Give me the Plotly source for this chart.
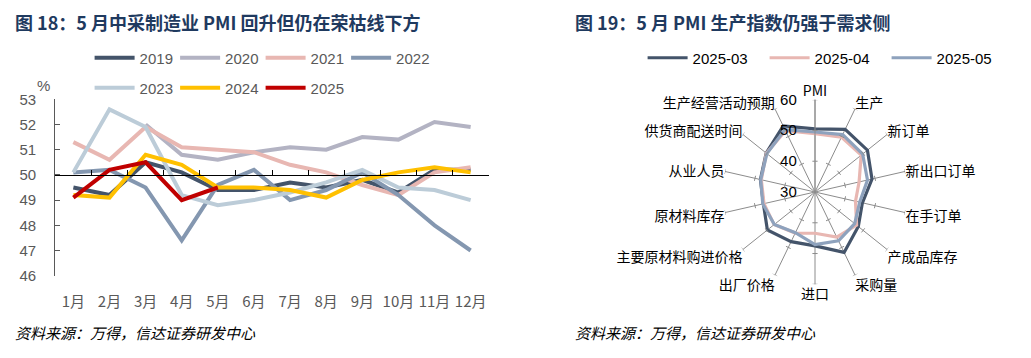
import math
import plotly.graph_objects as go

# ---------------- data ----------------
months = ["1月", "2月", "3月", "4月", "5月", "6月", "7月", "8月", "9月", "10月", "11月", "12月"]
pmi_2019 = [49.5, 49.2, 50.5, 50.1, 49.4, 49.4, 49.7, 49.5, 49.8, 49.3, 50.2, 50.2]
pmi_2020 = [None, None, 52.0, 50.8, 50.6, 50.9, 51.1, 51.0, 51.5, 51.4, 52.1, 51.9]
pmi_2021 = [51.3, 50.6, 51.9, 51.1, 51.0, 50.9, 50.4, 50.1, 49.6, 49.2, 50.1, 50.3]
pmi_2022 = [50.1, 50.2, 49.5, 47.4, 49.6, 50.2, 49.0, 49.4, 50.1, 49.2, 48.0, 47.0]
pmi_2023 = [50.1, 52.6, 51.9, 49.2, 48.8, 49.0, 49.3, 49.7, 50.2, 49.5, 49.4, 49.0]
pmi_2024 = [49.2, 49.1, 50.8, 50.4, 49.5, 49.5, 49.4, 49.1, 49.8, 50.1, 50.3, 50.1]
pmi_2025 = [49.1, 50.2, 50.5, 49.0, 49.5]

radar_cats = ["PMI", "生产", "新订单", "新出口订单", "在手订单", "产成品库存", "采购量", "进口",
              "出厂价格", "主要原材料购进价格", "原材料库存", "从业人员", "供货商配送时间", "生产经营活动预期"]
m2025_03 = [50.5, 52.6, 51.8, 49.0, 45.8, 48.0, 51.8, 47.5, 47.9, 49.8, 47.2, 48.2, 50.3, 53.8]
m2025_04 = [49.0, 49.8, 49.2, 44.7, 43.5, 47.3, 46.3, 43.4, 44.8, 47.0, 47.0, 47.9, 50.2, 52.1]
m2025_05 = [49.5, 50.7, 49.8, 47.5, 44.9, 46.5, 47.6, 47.1, 44.7, 46.9, 47.4, 48.1, 50.0, 52.5]
radar_ticks = [30, 40, 50, 60]

W, H = 1031, 358
OX, OY = 8.0, 8.0   # page offset of the plot div
FONT = "Liberation Sans, Arial, Noto Sans CJK SC, sans-serif"
CJK = "Noto Sans CJK SC, Liberation Sans, sans-serif"


def px(x):
    return (x - OX) / W


def py(y):
    return 1 - (y - OY) / H


fig = go.Figure()

line_series = [
    ("2019", pmi_2019, "#44546A", "legend"),
    ("2020", pmi_2020, "#B3B3C3", "legend"),
    ("2021", pmi_2021, "#E8B7B2", "legend"),
    ("2022", pmi_2022, "#8497B0", "legend"),
    ("2023", pmi_2023, "#BCCCD8", "legend2"),
    ("2024", pmi_2024, "#FFC000", "legend2"),
    ("2025", pmi_2025, "#C00000", "legend2"),
]
for name, vals, col, lg in line_series:
    fig.add_trace(go.Scatter(x=months[:len(vals)], y=vals, name=name, mode="lines",
                             line=dict(color=col, width=4), legend=lg,
                             connectgaps=False, xaxis="x", yaxis="y"))

# helper trace so the 50-line axis is drawn
fig.add_trace(go.Scatter(x=[0], y=[None], xaxis="x2", yaxis="y", showlegend=False,
                         hoverinfo="skip", mode="lines"))

# ---- radar ----
cx, cy, rad = 815.0, 192.0, 92.3
rmin, rmax = radar_ticks[0], radar_ticks[-1]

# small tick marks across every spoke (computed from the value scale)
n = len(radar_cats)
half = 2.6 * (rmax - rmin) / rad   # ~2.6 px expressed in data units
tr, tt = [], []
for i in range(n):
    base = i * 360.0 / n
    for v in radar_ticks[1:]:
        rho = v - rmin
        rr = rmin + math.hypot(rho, half)
        da = math.degrees(math.atan2(half, rho))
        tr += [rr, rr, None]
        tt += [base - da, base + da, None]
fig.add_trace(go.Scatterpolar(r=tr, theta=tt, mode="lines", line=dict(color="#8C8C8C", width=1),
                              subplot="polar2", showlegend=False, hoverinfo="skip"))

radar_series = [
    ("2025-03", m2025_03, "#44546A"),
    ("2025-04", m2025_04, "#E8B7B2"),
    ("2025-05", m2025_05, "#8EA2BD"),
]
for name, vals, col in radar_series:
    fig.add_trace(go.Scatterpolar(r=vals + vals[:1], theta=radar_cats + radar_cats[:1], name=name,
                                  mode="lines", line=dict(color=col, width=3.2), legend="legend3",
                                  subplot="polar"))

# geometry
xl0, xl1 = px(55.3), px(488.7)
yb, yt = py(275.7), py(99.3)
y50 = yb + (50 - 46) / (53 - 46) * (yt - yb)
pdom = dict(x=[px(cx - rad), px(cx + rad)], y=[py(cy + rad), py(cy - rad)])
pad = "\u00a0\u00a0\u00a0"

fig.update_layout(
    width=W, height=H, margin=dict(l=0, r=0, t=0, b=0, autoexpand=False),
    paper_bgcolor="white", plot_bgcolor="rgba(0,0,0,0)",
    font=dict(family=FONT, size=15, color="#595959"),
    xaxis=dict(domain=[xl0, xl1], anchor="y", type="category", range=[-0.5, 11.5],
               showline=False, ticks="", showgrid=False, zeroline=False, tickangle=0,
               tickfont=dict(family=CJK, size=15, color="#595959"), ticklabelstandoff=15),
    xaxis2=dict(overlaying="x", anchor="free", position=y50, range=[-0.5, 11.5],
                showline=True, linecolor="#000000", linewidth=1.2, ticks="inside", ticklen=5,
                tickcolor="#000000", tickvals=[i + 0.5 for i in range(12)], showticklabels=False,
                showgrid=False, zeroline=False),
    yaxis=dict(domain=[yb, yt], range=[46, 53], dtick=1, showline=True, linecolor="#595959",
               linewidth=1.2, ticks="inside", ticklen=5, tickcolor="#595959", showgrid=False,
               zeroline=False, ticklabelstandoff=15, tickfont=dict(size=15, color="#595959")),
    polar=dict(
        domain=pdom,
        bgcolor="rgba(0,0,0,0)",
        radialaxis=dict(range=[rmin, rmax], angle=90, tickvals=radar_ticks,
                        ticktext=[f"{v}{pad}" for v in radar_ticks],
                        showgrid=False, showline=True, linecolor="#8C8C8C", ticks="",
                        side="counterclockwise", tickangle=90,
                        tickfont=dict(size=15, color="#000000")),
        angularaxis=dict(rotation=90, direction="clockwise", showline=False, showgrid=True,
                         gridcolor="#8C8C8C", gridwidth=1, ticks="",
                         tickfont=dict(family=CJK, size=14, color="#000000")),
    ),
    polar2=dict(
        domain=pdom,
        bgcolor="rgba(0,0,0,0)",
        radialaxis=dict(range=[rmin, rmax], visible=False),
        angularaxis=dict(type="linear", thetaunit="degrees", rotation=90, direction="clockwise",
                         visible=False),
    ),
    legend=dict(orientation="h", x=px(97 - 7.4), y=py(58), xanchor="left", yanchor="middle",
                entrywidth=30.5, entrywidthmode="pixels", itemwidth=40,
                font=dict(size=15, color="#595959"), bgcolor="rgba(0,0,0,0)"),
    legend2=dict(orientation="h", x=px(97 - 7.4), y=py(88), xanchor="left", yanchor="middle",
                 entrywidth=30.5, entrywidthmode="pixels", itemwidth=40,
                 font=dict(size=15, color="#595959"), bgcolor="rgba(0,0,0,0)"),
    legend3=dict(orientation="h", x=px(650 - 7.4), y=py(58), xanchor="left", yanchor="middle",
                 entrywidth=67, entrywidthmode="pixels", itemwidth=40,
                 font=dict(size=15, color="#000000"), bgcolor="rgba(0,0,0,0)"),
    showlegend=True,
)

title_col = "#1F3A5F"
fig.add_annotation(text="<b>图 18：5 月中采制造业 PMI 回升但仍在荣枯线下方</b>", x=px(13), y=py(22),
                   xref="paper", yref="paper", xanchor="left", yanchor="middle", showarrow=False,
                   font=dict(family=CJK, size=18, color=title_col))
fig.add_annotation(text="<b>图 19：5 月 PMI 生产指数仍强于需求侧</b>", x=px(573), y=py(22),
                   xref="paper", yref="paper", xanchor="left", yanchor="middle", showarrow=False,
                   font=dict(family=CJK, size=18, color=title_col))
for xs in (13, 573):
    fig.add_annotation(text="<i>资料来源：万得，信达证券研发中心</i>", x=px(xs), y=py(332),
                       xref="paper", yref="paper", xanchor="left", yanchor="middle", showarrow=False,
                       font=dict(family=CJK, size=15, color="#000000"))
fig.add_annotation(text="%", x=px(43), y=py(85), xref="paper", yref="paper",
                   xanchor="center", yanchor="middle", showarrow=False,
                   font=dict(size=15, color="#595959"))

fig.write_html("out.html")
